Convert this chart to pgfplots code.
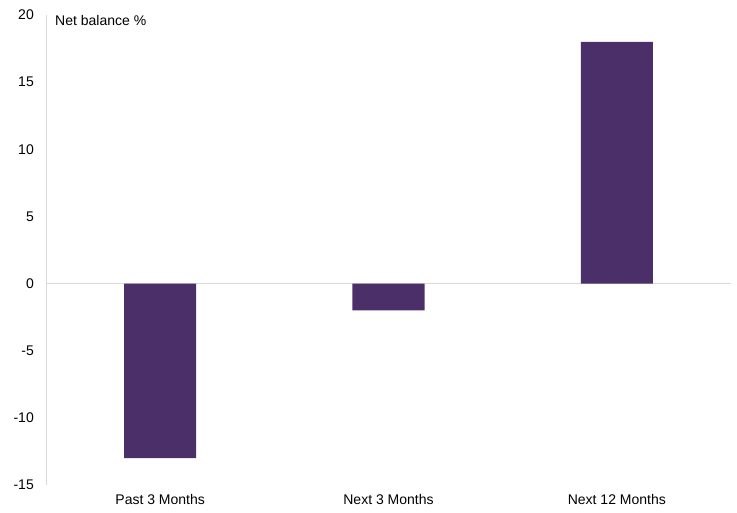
\documentclass[border=0pt]{standalone}
\usepackage{fontspec}
\setmainfont{Liberation Sans}
\usepackage{pgfplots}
\pgfplotsset{compat=1.18}
\definecolor{barpurple}{HTML}{4B2F68}
\definecolor{axisgray}{HTML}{D9D9D9}
\begin{document}
\begin{tikzpicture}
\begin{axis}[
    at={(0,0)}, anchor=south west,
    scale only axis,
    width=685pt, height=470pt,
    xmin=-0.5, xmax=2.5,
    ymin=-15, ymax=20,
    ytick={-15,-10,...,20},
    xtick={0,1,2},
    xticklabels={Past 3 Months, Next 3 Months, Next 12 Months},
    axis lines*=left,
    x axis line style={draw=none},
    y axis line style={draw=axisgray, line width=0.8pt},
    major tick length=0pt,
    tick label style={font=\fontsize{14}{16}\selectfont},
    /pgf/number format/assume math mode=true,
    yticklabel style={anchor=east, inner sep=0pt, xshift=-12pt},
    xticklabel style={anchor=north, inner sep=0pt, yshift=-9pt},
    clip=false,
]
\addplot[draw=axisgray, line width=1pt, forget plot] coordinates {(-0.5,0) (2.5,0)};
\addplot[ybar, bar width=72pt, bar shift=0pt, fill=barpurple, draw=none] coordinates {(0,-13) (1,-2) (2,18)};
\node[anchor=west, inner sep=0pt, font=\fontsize{14}{16}\selectfont] at ([xshift=9pt,yshift=-6pt]rel axis cs:0,1) {Net balance \%};
\end{axis}
\pgfresetboundingbox
\path (-46pt,-28pt) rectangle (691pt,485pt);
\end{tikzpicture}
\end{document}
